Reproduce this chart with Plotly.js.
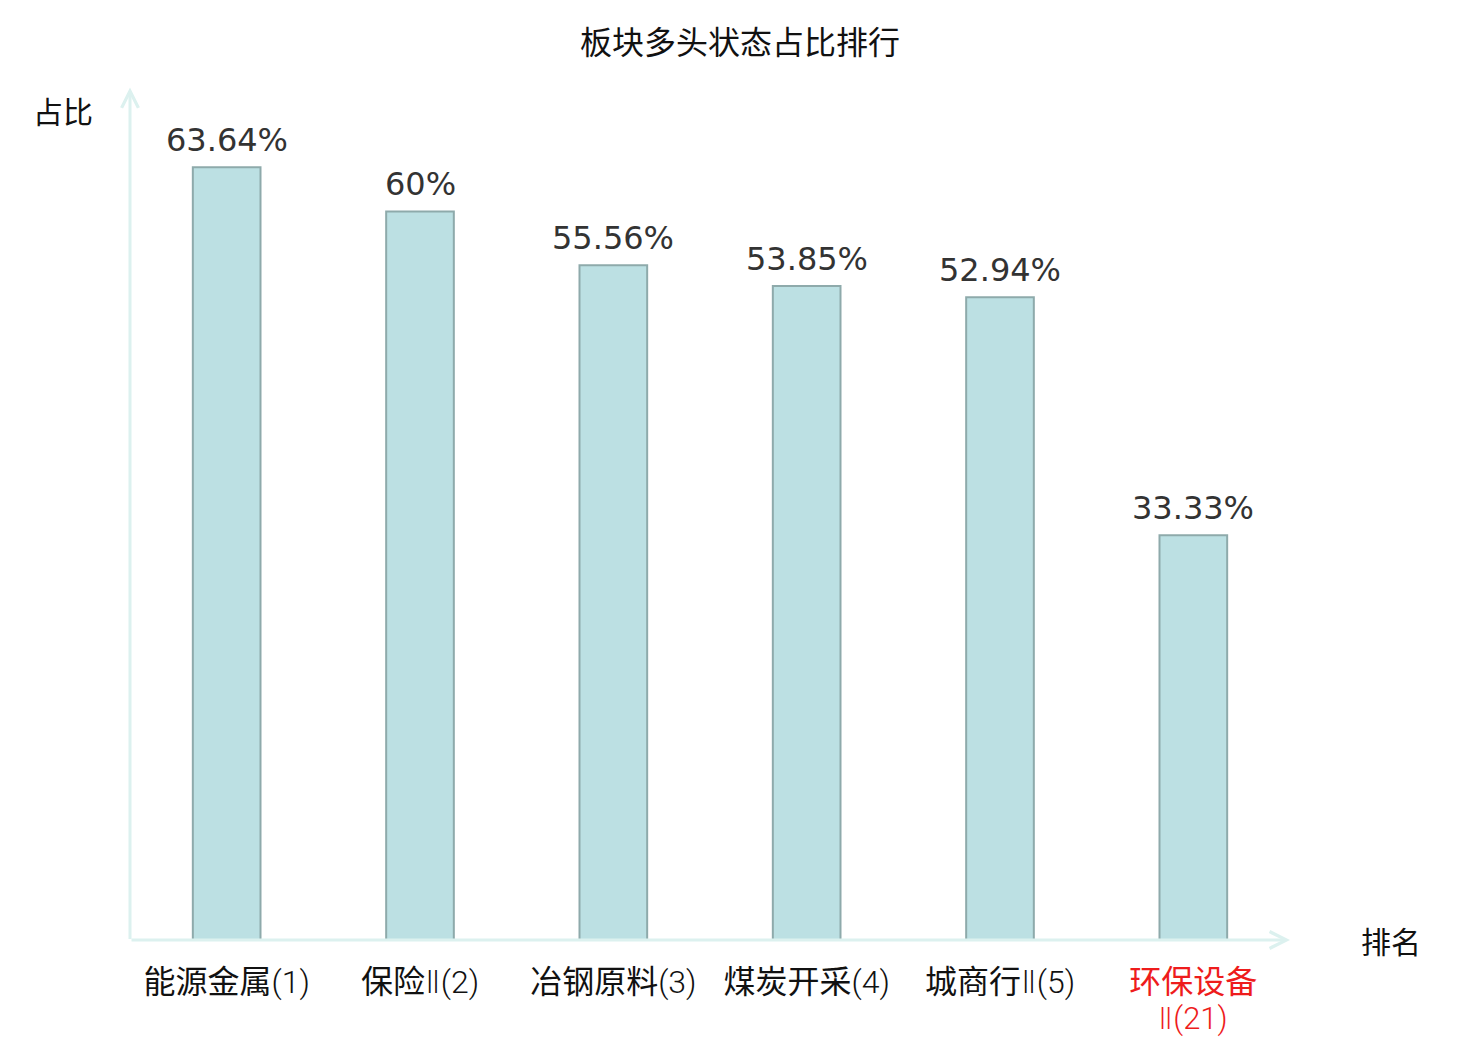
<!DOCTYPE html>
<html><head><meta charset="utf-8">
<script src="https://cdn.plot.ly/plotly-3.0.1.min.js"></script>
<style>body{margin:0;background:#fff}#c{width:1480px;height:1040px}</style>
</head><body><div id="c"></div>
<script>
const categories = ['能源金属(1)', '保险Ⅱ(2)', '冶钢原料(3)', '煤炭开采(4)', '城商行Ⅱ(5)', '环保设备Ⅱ(21)'];
const labelMain = ['能源金属', '保险', '冶钢原料', '煤炭开采', '城商行', '环保设备'];
const labelSuffix = ['(1)', 'Ⅱ(2)', '(3)', '(4)', 'Ⅱ(5)', 'Ⅱ(21)'];
const values = [63.64, 60, 55.56, 53.85, 52.94, 33.33];
const valueLabels = ['63.64%', '60%', '55.56%', '53.85%', '52.94%', '33.33%'];

const cjk = '"Noto Sans CJK SC", "Noto Sans", sans-serif';
const axisColor = '#dcf1ef';
const red = '#ee1c1c';

function suffixHtml(s) {
  return s.replace('Ⅱ', '<span style="font-family:\'DejaVu Sans\';font-weight:200">Ⅱ</span>')
          .replace(/(\(\d+\))/, '<span style="font-family:Roboto;font-weight:300">$1</span>');
}
const tickLabels = labelMain.map((m, i) => i === 5
  ? '<span style="color:' + red + '">' + m + '</span>'
  : m + suffixHtml(labelSuffix[i]));

const trace = {
  type: 'bar', x: categories, y: values, width: 0.35,
  marker: {color: '#bce0e3', line: {color: '#8eaaab', width: 2}},
  hoverinfo: 'skip'
};

const annotations = values.map((v, i) => ({
  x: categories[i], y: v, xref: 'x', yref: 'y', text: valueLabels[i],
  showarrow: false, yanchor: 'bottom', yshift: 6,
  font: {family: '"DejaVu Sans", sans-serif', size: 32, color: '#333333'}
}));
annotations.push(
  {x: categories[5], xref: 'x', yref: 'paper', y: 0, yshift: -78, xanchor: 'center', yanchor: 'middle',
   text: suffixHtml(labelSuffix[5]), showarrow: false, font: {family: cjk, size: 31, color: red}},
  {xref: 'paper', yref: 'paper', x: 1, y: 0, ax: -1160, ay: 0, axref: 'pixel', ayref: 'pixel',
   text: '', showarrow: true, arrowhead: 5, arrowsize: 1.1, arrowwidth: 3, arrowcolor: axisColor},
  {xref: 'paper', yref: 'paper', x: 0, y: 1.003, ax: 0, ay: 853, axref: 'pixel', ayref: 'pixel',
   text: '', showarrow: true, arrowhead: 5, arrowsize: 1.1, arrowwidth: 3, arrowcolor: axisColor},
  {xref: 'paper', yref: 'paper', x: -0.0578, y: 0.976, xanchor: 'center', yanchor: 'middle', text: '占比', showarrow: false,
   font: {family: cjk, size: 30, color: '#111111'}},
  {xref: 'paper', yref: 'paper', x: 1.087, y: 0, xanchor: 'center', yanchor: 'middle', text: '排名', showarrow: false,
   font: {family: cjk, size: 30, color: '#111111'}}
);

const layout = {
  width: 1480, height: 1040,
  margin: {l: 130, r: 190, t: 90, b: 100},
  paper_bgcolor: '#ffffff', plot_bgcolor: '#ffffff',
  showlegend: false,
  title: {text: '板块多头状态占比排行', x: 0.5, xanchor: 'center', y: 0.959, yanchor: 'middle',
          font: {family: cjk, size: 32, color: '#111111'}},
  xaxis: {type: 'category', range: [-0.5, 5.5], tickmode: 'array', tickvals: categories, ticktext: tickLabels,
          showline: false, showgrid: false, zeroline: false, ticks: '', ticklabelstandoff: 20,
          tickfont: {family: cjk, size: 32, color: '#111111'}},
  yaxis: {range: [0, 70], showline: false, showgrid: false, zeroline: false, showticklabels: false, ticks: ''},
  annotations: annotations
};

Plotly.newPlot('c', [trace], layout, {displayModeBar: false, staticPlot: true});
</script></body></html>
